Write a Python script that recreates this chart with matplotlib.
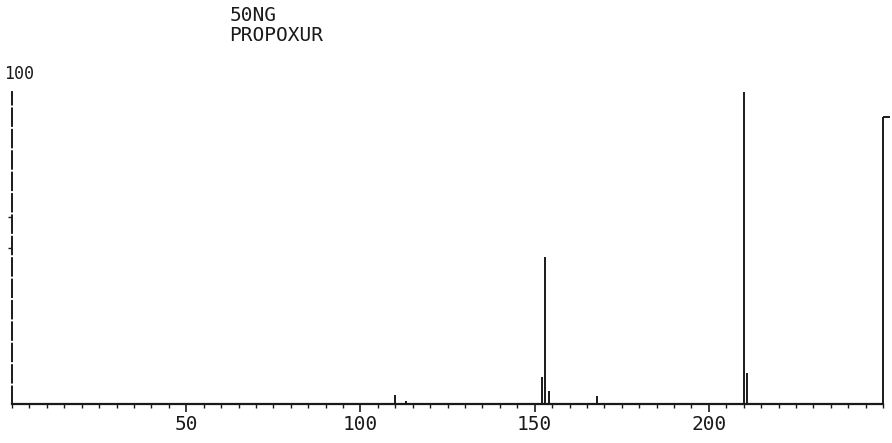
import matplotlib
matplotlib.use("Agg")
import matplotlib.pyplot as plt

# mass spectrum, 50 ng propoxur
mz = [110, 113, 152, 153, 154, 168, 210, 211, 250]
intensity = [3, 1, 8.7, 47, 4.2, 2.5, 100, 10, 92]

xticks = [50, 100, 150, 200]
xlabels = ["50", "100", "150", "200"]
title_lines = ["50NG", "PROPOXUR"]
ink = "#1a1a1a"

fig = plt.figure(figsize=(8.92, 4.43), dpi=100)
ax = fig.add_axes([0.0135, 0.088, 0.9765, 0.704])

# peaks
ax.vlines(mz, 0, intensity, color=ink, lw=1.4, clip_on=False)
# the last peak has a small flag at its top, pointing right
ax.plot([mz[-1]], [intensity[-1]], marker=[(0, 0), (1, 0)], ms=10, mew=1.4,
        color=ink, clip_on=False)

ax.set_xlim(0, 250)
ax.set_ylim(0, 100)

for s in ["top", "right"]:
    ax.spines[s].set_visible(False)
ax.spines["bottom"].set_linewidth(1.6)
ax.spines["bottom"].set_color(ink)
ax.spines["left"].set_linewidth(1.4)
ax.spines["left"].set_color(ink)
ax.spines["left"].set_linestyle((0, (9, 2)))

ax.set_xticks(xticks)
ax.set_xticklabels(xlabels, family="DejaVu Sans Mono", fontsize=14, color=ink)
ax.set_xticks(range(0, 251, 5), minor=True)
ax.tick_params(axis="x", which="major", length=6, width=1.2, color=ink, pad=2)
ax.tick_params(axis="x", which="minor", length=3, width=1.0, color=ink)

ax.set_yticks([50, 60])
ax.set_yticklabels([])
ax.tick_params(axis="y", length=3, width=1.0, color=ink)

ax.annotate("100", xy=(0, 100), xytext=(-6, 13), textcoords="offset points",
            ha="left", va="center", family="DejaVu Sans Mono", fontsize=12, color=ink,
            annotation_clip=False)

fig.text(0.257, 0.965, title_lines[0], family="DejaVu Sans Mono", fontsize=14,
         color=ink, ha="left", va="center")
fig.text(0.257, 0.92, title_lines[1], family="DejaVu Sans Mono", fontsize=14,
         color=ink, ha="left", va="center")

fig.savefig("out.png", dpi=100)
